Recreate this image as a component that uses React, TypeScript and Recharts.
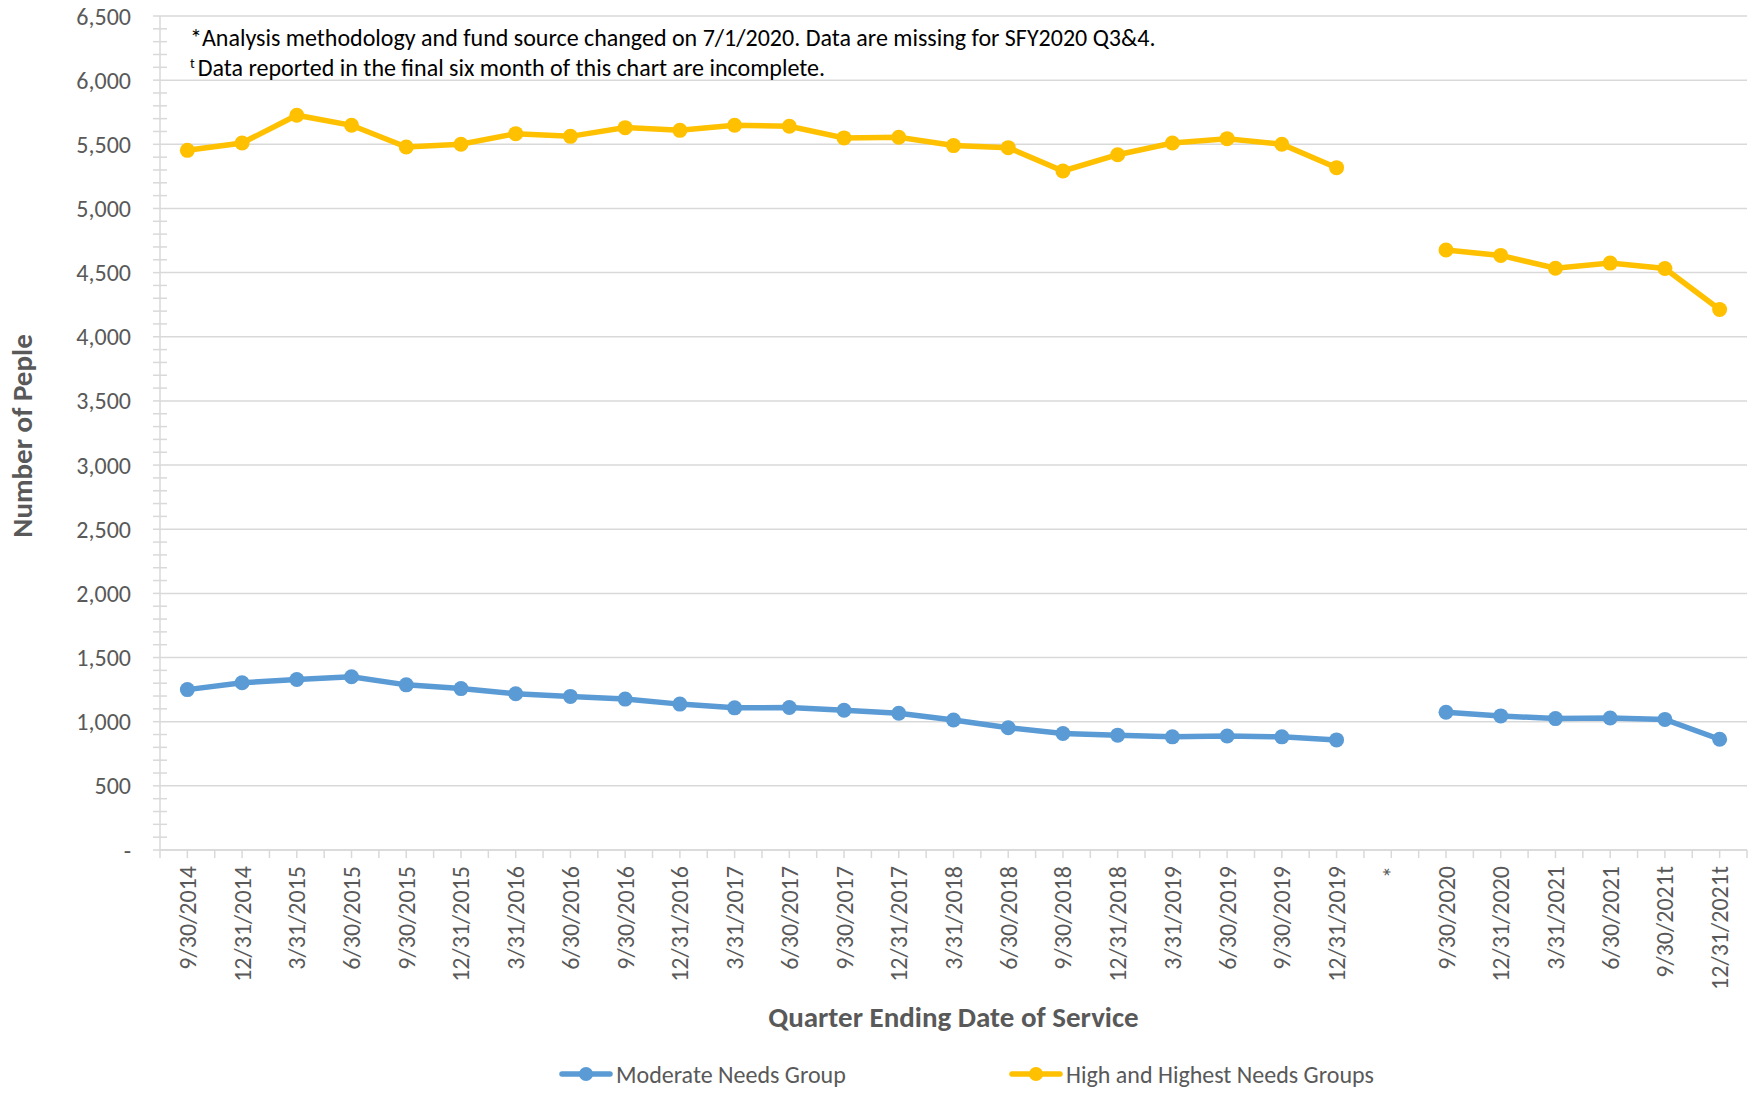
import React from 'react';
import { LineChart, Line, XAxis, YAxis, CartesianGrid, Legend, Label } from 'recharts';

const quarters = [
  '9/30/2014', '12/31/2014', '3/31/2015', '6/30/2015', '9/30/2015', '12/31/2015',
  '3/31/2016', '6/30/2016', '9/30/2016', '12/31/2016', '3/31/2017', '6/30/2017',
  '9/30/2017', '12/31/2017', '3/31/2018', '6/30/2018', '9/30/2018', '12/31/2018',
  '3/31/2019', '6/30/2019', '9/30/2019', '12/31/2019', '*',
  '9/30/2020', '12/31/2020', '3/31/2021', '6/30/2021', '9/30/2021t', '12/31/2021t',
];

const moderateNeeds = [
  1250, 1303, 1329, 1350, 1287, 1258, 1218, 1197, 1176, 1137, 1108, 1111,
  1089, 1066, 1013, 953, 908, 895, 882, 889, 882, 858, null,
  1074, 1045, 1024, 1029, 1018, 863,
];

const highNeeds = [
  5453, 5510, 5727, 5648, 5479, 5500, 5583, 5562, 5630, 5609, 5648, 5641,
  5550, 5555, 5490, 5474, 5292, 5419, 5510, 5544, 5500, 5318, null,
  4676, 4634, 4534, 4574, 4532, 4213,
];

const majorTicks = [0, 500, 1000, 1500, 2000, 2500, 3000, 3500, 4000, 4500, 5000, 5500, 6000, 6500];
const minorSteps = [0, 100, 200, 300, 400];
const allTicks = majorTicks.flatMap((t) => (t === 6500 ? [t] : minorSteps.map((s) => t + s)));

const data = quarters.map((q, i) => ({
  quarter: q,
  moderate: moderateNeeds[i],
  high: highNeeds[i],
}));

const BLUE = '#5B9BD5';
const YELLOW = '#FFC000';
const GRID = '#D9D9D9';
const TEXT = '#595959';
const FONT = 'Carlito, Calibri, Lato, sans-serif';

const W = 1754;
const H = 1095;
const MARGIN = { top: 16, right: 7, left: 0, bottom: 1 };
const Y_AXIS_W = 160;
const PLOT_W = W - MARGIN.left - MARGIN.right - Y_AXIS_W;
const PAD = PLOT_W / (quarters.length * 2);
const STEP = PAD * 2;

const XTick = (props: any) => {
  const { x, y, payload, index } = props;
  const last = index === quarters.length - 1;
  return (
    <g>
      <line x1={x} x2={x} y1={y} y2={y + 8} stroke={GRID} strokeWidth={1.5} />
      <line x1={x - STEP / 2} x2={x - STEP / 2} y1={y} y2={y + 8} stroke={GRID} strokeWidth={1.5} />
      {last && <line x1={x + STEP / 2} x2={x + STEP / 2} y1={y} y2={y + 8} stroke={GRID} strokeWidth={1.5} />}
      <text
        x={x}
        y={y + 16}
        transform={`rotate(-90, ${x}, ${y + 16})`}
        textAnchor="end"
        dominantBaseline="central"
        fontSize={24}
        fill={TEXT}
        fontFamily={FONT}
      >
        {payload.value}
      </text>
    </g>
  );
};

const YTick = (props: any) => {
  const { x, y, payload } = props;
  const v = payload.value;
  const major = v % 500 === 0;
  return (
    <g>
      <line x1={x - 7} x2={major ? x : x + 7} y1={y} y2={y} stroke={GRID} strokeWidth={1.5} />
      {major && (
        <text x={x - 29} y={y} textAnchor="end" dominantBaseline="central" fontSize={24} fill={TEXT} fontFamily={FONT}>
          {v === 0 ? '-' : v.toLocaleString('en-US')}
        </text>
      )}
    </g>
  );
};

const YTitle = (props: any) => {
  const { viewBox } = props;
  const cx = 22;
  const cy = viewBox.y + viewBox.height / 2 + 3;
  return (
    <text
      x={cx}
      y={cy}
      transform={`rotate(-90, ${cx}, ${cy})`}
      textAnchor="middle"
      dominantBaseline="central"
      fontSize={29}
      fontWeight="bold"
      fill={TEXT}
      fontFamily={FONT}
    >
      Number of Peple
    </text>
  );
};

const legendItems = [
  { label: 'Moderate Needs Group', color: BLUE, width: 450 },
  { label: 'High and Highest Needs Groups', color: YELLOW, width: 420 },
];

const renderLegend = () => (
  <div style={{ display: 'flex', alignItems: 'center', height: 40, paddingLeft: 559, fontFamily: FONT }}>
    {legendItems.map((it) => (
      <div key={it.label} style={{ display: 'flex', alignItems: 'center', width: it.width }}>
        <svg width={54} height={20}>
          <line x1={3} x2={51} y1={10} y2={10} stroke={it.color} strokeWidth={5.5} strokeLinecap="round" />
          <circle cx={27} cy={10} r={7} fill={it.color} />
        </svg>
        <span style={{ fontSize: 24, color: TEXT, marginLeft: 3 }}>{it.label}</span>
      </div>
    ))}
  </div>
);

export default function App() {
  return (
    <div style={{ position: 'relative', width: W, height: H, background: '#fff', fontFamily: FONT }}>
      <style>{'body{margin:0}'}</style>
      <LineChart width={W} height={H} data={data} margin={MARGIN}>
        <CartesianGrid vertical={false} horizontalValues={majorTicks} stroke={GRID} strokeWidth={1.5} />
        <XAxis
          dataKey="quarter"
          interval={0}
          padding={{ left: PAD, right: PAD }}
          height={204}
          tickSize={0}
          tickMargin={0}
          tick={<XTick />}
          axisLine={{ stroke: GRID, strokeWidth: 1.5 }}
          tickLine={false}
        >
          <Label
            value="Quarter Ending Date of Service"
            position="insideBottom"
            offset={27}
            style={{ fontSize: 29, fontWeight: 'bold', fill: TEXT, fontFamily: FONT }}
          />
        </XAxis>
        <YAxis
          width={Y_AXIS_W}
          domain={[0, 6500]}
          ticks={allTicks}
          interval={0}
          tickSize={0}
          tickMargin={0}
          tick={<YTick />}
          axisLine={{ stroke: GRID, strokeWidth: 1.5 }}
          tickLine={false}
        >
          <Label content={<YTitle />} />
        </YAxis>
        <Legend verticalAlign="bottom" height={40} content={renderLegend} />
        <Line
          type="linear"
          dataKey="moderate"
          name="Moderate Needs Group"
          stroke={BLUE}
          strokeWidth={5.5}
          dot={{ r: 7.5, fill: BLUE, stroke: BLUE, strokeWidth: 0 }}
          activeDot={false}
          isAnimationActive={false}
        />
        <Line
          type="linear"
          dataKey="high"
          name="High and Highest Needs Groups"
          stroke={YELLOW}
          strokeWidth={5.5}
          dot={{ r: 7.5, fill: YELLOW, stroke: YELLOW, strokeWidth: 0 }}
          activeDot={false}
          isAnimationActive={false}
        />
      </LineChart>
      <div style={{ position: 'absolute', left: 190, top: 23, fontSize: 24, lineHeight: '30px', color: '#000', fontFamily: FONT }}>
        <div>*Analysis methodology and fund source changed on 7/1/2020. Data are missing for SFY2020 Q3&amp;4.</div>
        <div>
          <sup style={{ fontSize: 14, verticalAlign: 'top', lineHeight: '22px', marginRight: 3 }}>t</sup>
          Data reported in the final six month of this chart are incomplete.
        </div>
      </div>
    </div>
  );
}
